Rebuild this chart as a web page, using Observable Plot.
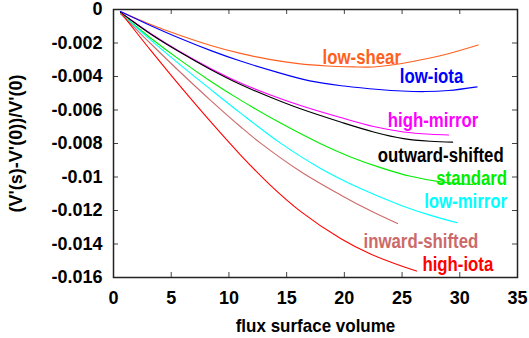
<!DOCTYPE html>
<html><head><meta charset="utf-8">
<script src="https://cdn.jsdelivr.net/npm/d3@7"></script>
<script src="https://cdn.jsdelivr.net/npm/@observablehq/plot@0.6"></script>
<style>
body{margin:0;background:#fff;}
svg text{font-family:"Liberation Sans",Arial,sans-serif;font-weight:bold;}
</style></head><body><div id="chart"></div>
<script>
// ---- data ----
const seriesNames = ["low-shear","low-iota","high-mirror","outward-shifted","standard","low-mirror","inward-shifted","high-iota"];
const seriesColors = ["#ff6020","#0000ff","#ff00ff","#000000","#00ee00","#00ffff","#cc6a6a","#ff0000"];

const xLowShear = [0.6, 3, 5.8, 8.5, 11, 13.5, 16, 18.5, 21, 22, 23, 25, 27, 29, 31.6];
const yLowShear = [-0.00012, -0.00083, -0.00155, -0.00216, -0.00262, -0.00298, -0.00323, -0.00337, -0.00343, -0.00344, -0.0034, -0.00322, -0.00296, -0.00264, -0.00212];

const xLowIota = [0.6, 3, 5.8, 8.5, 11, 14, 17, 20, 23, 25, 27, 29, 31.5];
const yLowIota = [-0.00012, -0.00089, -0.00173, -0.00247, -0.00308, -0.00371, -0.00426, -0.00457, -0.00478, -0.00487, -0.0049, -0.00484, -0.00462];

const xHighMirror = [0.61, 3.21, 5.81, 8.41, 11.01, 13.6, 16.2, 19.67, 22.53, 25.13, 27.47, 29.03];
const yHighMirror = [-0.00018, -0.00143, -0.00254, -0.00352, -0.00439, -0.0051, -0.00573, -0.00645, -0.00699, -0.00731, -0.00745, -0.00749];

const xOutward = [0.61, 3.21, 5.81, 8.41, 11.01, 13.6, 16.2, 19.67, 22.53, 25.13, 27.47, 29.38];
const yOutward = [-0.00018, -0.00146, -0.00257, -0.00358, -0.00448, -0.00524, -0.00593, -0.00672, -0.00731, -0.00771, -0.00787, -0.00792];

const xStandard = [0.61, 3.21, 5.81, 8.41, 11.01, 14.47, 17.94, 20.54, 23.14, 25.74, 28.34, 31.11];
const yStandard = [-0.00024, -0.0017, -0.00304, -0.00428, -0.00541, -0.00678, -0.00801, -0.0088, -0.00944, -0.00996, -0.01029, -0.01045];

const xLowMirror = [0.61, 3.21, 5.81, 8.41, 11.01, 14.47, 17.94, 21.4, 24.87, 27.47, 29.81];
const yLowMirror = [-0.00024, -0.00181, -0.00332, -0.00477, -0.00619, -0.00798, -0.00949, -0.01069, -0.01168, -0.01229, -0.01273];

const xInward = [0.61, 3.21, 5.81, 8.41, 11.01, 12.74, 16.2, 19.67, 22.27, 24.61];
const yInward = [-0.00024, -0.00203, -0.00376, -0.00542, -0.007, -0.00798, -0.00967, -0.01107, -0.01202, -0.01278];

const xHighIota = [0.69, 3.21, 5.81, 8.41, 11.01, 13.6, 16.2, 19.67, 22.27, 25.13, 26.26];
const yHighIota = [-0.00024, -0.00243, -0.00461, -0.0067, -0.00869, -0.0105, -0.01205, -0.01367, -0.0146, -0.01536, -0.01561];

// label anchor points (right end of each label, baseline), in data units
const labelX = [24.9, 30.3, 31.6, 33.8, 34.1, 34.1, 31.6, 32.9];
const labelY = [-0.00324, -0.0044, -0.00704, -0.00908, -0.01045, -0.01188, -0.01421, -0.01564];

const xTicks = [0, 5, 10, 15, 20, 25, 30, 35];
const yTicks = [0, -0.002, -0.004, -0.006, -0.008, -0.01, -0.012, -0.014, -0.016];
const xTitle = "flux surface volume";
const yTitle = "(V'(s)-V'(0))/V'(0)";

// ---- build ----
const xs = [xLowShear, xLowIota, xHighMirror, xOutward, xStandard, xLowMirror, xInward, xHighIota];
const ys = [yLowShear, yLowIota, yHighMirror, yOutward, yStandard, yLowMirror, yInward, yHighIota];

const lineMarks = seriesNames.map((name, i) =>
  Plot.line(xs[i].map((x, j) => ({x, y: ys[i][j]})), {
    x: "x", y: "y", stroke: seriesColors[i], strokeWidth: 1.1, curve: "catmull-rom"
  })
);
const labels = seriesNames.map((name, i) => ({name, x: labelX[i], y: labelY[i]}));
const labelMarks = labels.map((l, i) =>
  Plot.text([l], {x: "x", y: "y", text: "name", fill: seriesColors[i], textAnchor: "end", lineAnchor: "bottom",
    fontSize: 16.8, fontWeight: "bold"})
);

const fmtY = d => d === 0 ? "0" : String(+d.toFixed(3));

const tickMarks = [
  Plot.tickX(xTicks, {x: d => d, insetTop: 263, stroke: "#444"}),
  Plot.tickX(xTicks, {x: d => d, insetBottom: 263, stroke: "#444"}),
  Plot.tickY(yTicks, {y: d => d, insetRight: 399, stroke: "#444"}),
  Plot.tickY(yTicks, {y: d => d, insetLeft: 399, stroke: "#444"})
];
const textMarks = [
  Plot.text(xTicks, {x: d => d, frameAnchor: "bottom", dy: 26, lineAnchor: "bottom", text: d => String(d), fontSize: 18, fontWeight: "bold", fill: "#000"}),
  Plot.text(yTicks, {y: d => d, frameAnchor: "left", dx: -11, textAnchor: "end", lineAnchor: "middle", text: fmtY, fontSize: 18, fontWeight: "bold", fill: "#000"}),
  ...labelMarks,
  Plot.text([xTitle], {frameAnchor: "bottom", dy: 54, lineAnchor: "bottom", textAnchor: "middle", fontSize: 17, fontWeight: "bold", fill: "#000"}),
  Plot.text([yTitle], {frameAnchor: "left", dx: -97, rotate: -90, textAnchor: "middle", lineAnchor: "middle", fontSize: 18, fontWeight: "bold", fill: "#000"})
];

const chart = Plot.plot({
  width: 529, height: 338,
  marginLeft: 113, marginRight: 12, marginTop: 9, marginBottom: 61,
  x: {domain: [0, 35], axis: null},
  y: {domain: [-0.016, 0], axis: null},
  marks: [
    ...tickMarks,
    ...lineMarks,
    Plot.frame({stroke: "#222", strokeWidth: 1.5}),
    ...textMarks
  ]
});
document.getElementById("chart").appendChild(chart);

// vertically stretch the curve labels (the reference uses a tall, narrow bold face)
function stretch(el, k) {
  const t = el.getAttribute("transform");
  if (t) el.setAttribute("transform", t + ` scale(1,${k})`);
  else {
    const x = +el.getAttribute("x") || 0, y = +el.getAttribute("y") || 0;
    el.removeAttribute("x"); el.removeAttribute("y");
    el.setAttribute("transform", `translate(${x},${y}) scale(1,${k})`);
  }
}
const textGroups = chart.querySelectorAll('g[aria-label="text"]');
for (let i = 2; i < 2 + labelMarks.length; i++) {
  if (textGroups[i]) textGroups[i].querySelectorAll("text").forEach(t => stretch(t, 1.22));
}
const xt = textGroups[2 + labelMarks.length];
if (xt) xt.querySelectorAll("text").forEach(t => stretch(t, 1.08));
</script></body></html>
